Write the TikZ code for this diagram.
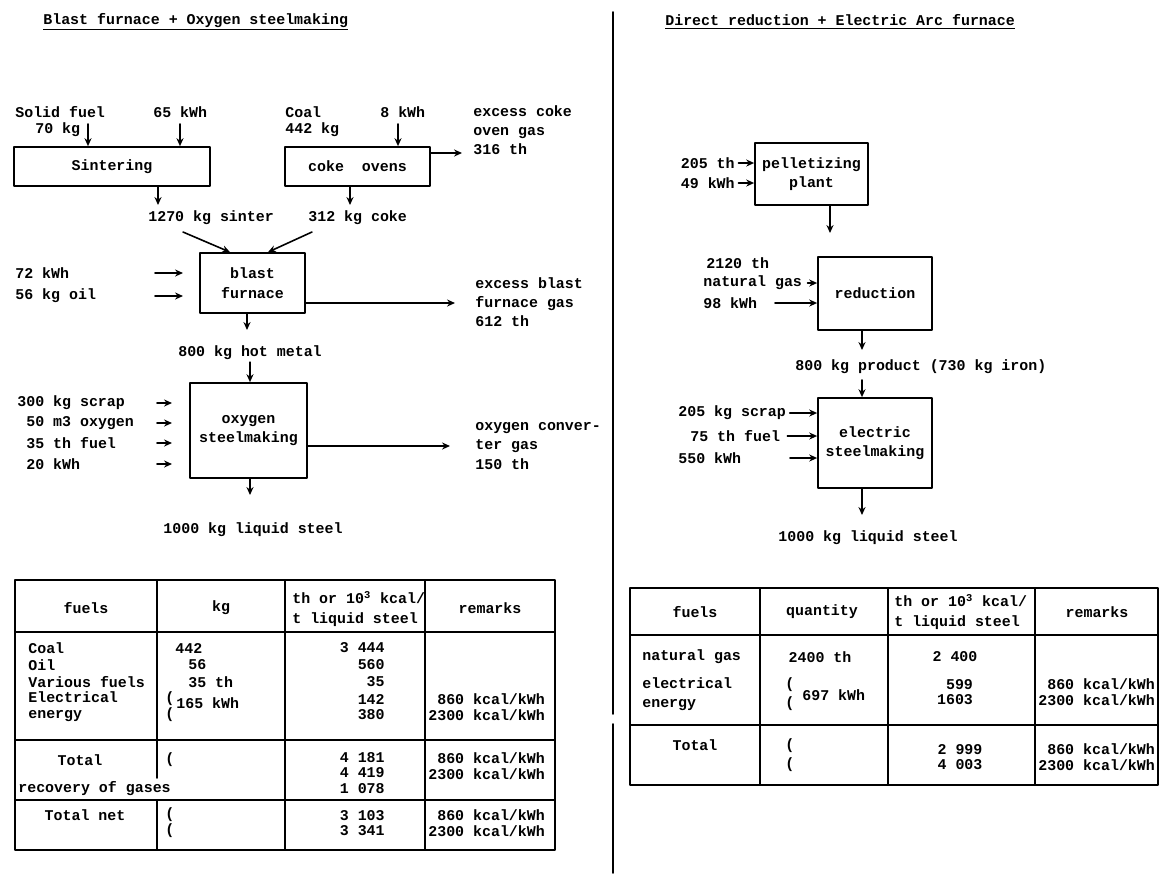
\documentclass[tikz,border=0pt]{standalone}
\usepackage{fontspec}
\setmonofont{Liberation Mono}
\usetikzlibrary{arrows.meta}

\tikzset{
  proc/.style={draw,line width=1pt,inner sep=0pt,align=center},
  lbl/.style={inner sep=0pt,anchor=west,align=left},
  flow/.style={line width=0.9pt,-{Stealth[length=4.5pt,width=4pt]}},
  rule/.style={line width=1pt},
  tight/.style={font=\ttfamily\bfseries\fontsize{8.5}{9}\selectfont},
}

\begin{document}
\begin{tikzpicture}[x=0.02cm,y=-0.02cm,line cap=round,line join=round,
  font=\ttfamily\bfseries\fontsize{8.5}{11}\selectfont]
  \useasboundingbox (0,0) rectangle (1174,873);
  % titles and divider
  \node[lbl] (titleA) at (43,22) {\underline{Blast furnace + Oxygen steelmaking}};
  \node[lbl] (titleB) at (665,22) {\underline{Direct reduction + Electric Arc furnace}};
  \draw[rule] (613,12) -- (613,714);
  \draw[rule] (613,724) -- (613,873);

  % blast furnace route
  \node[proc,minimum width=3.92cm,minimum height=0.78cm] (sinter) at (112,166.5) {Sintering};
  \node[proc,minimum width=2.9cm,minimum height=0.78cm] (coke) at (357.5,166.5) {coke\ \ ovens};
  \node[proc,minimum width=2.1cm,minimum height=1.2cm] (bf) at (252.5,283) {blast\\furnace};
  \node[proc,minimum width=2.34cm,minimum height=1.9cm] (oxy) at (248.5,430.5) {oxygen\\steelmaking};
  \node[lbl] (solid) at (15,112) {Solid fuel};
  \node[lbl] (kg70) at (35,130) {70 kg};
  \node[lbl] (kwh65) at (153,112) {65 kWh};
  \node[lbl] (coal) at (285,112) {Coal};
  \node[lbl] (kg442) at (285,130) {442 kg};
  \node[lbl] (kwh8) at (380,112) {8 kWh};
  \node[lbl] (cogas) at (473,130) {excess coke\\oven gas\\316 th};
  \node[lbl] (sinterkg) at (148,218) {1270 kg sinter};
  \node[lbl] (cokekg) at (308,218) {312 kg coke};
  \node[lbl] (kwh72) at (15,273) {72 kWh};
  \node[lbl] (oil) at (15,296) {56 kg oil};
  \node[lbl] (bfgas) at (475,302) {excess blast\\furnace gas\\612 th};
  \node[inner sep=1pt] (hotmetal) at (250,353) {800 kg hot metal};
  \node[lbl] (scrapA) at (17,403) {300 kg scrap};
  \node[lbl] (oxygen) at (26,423) {50 m3 oxygen};
  \node[lbl] (fuelA) at (26,443) {35 th fuel};
  \node[lbl] (kwh20) at (26,464) {20 kWh};
  \node[lbl] (convgas) at (475,446) {oxygen conver-\\ter gas\\150 th};
  \node (steelA) at (253,530) {1000 kg liquid steel};

  \draw[flow] (88,124) -- (88,0 |- sinter.north);
  \draw[flow] (180,124) -- (180,0 |- sinter.north);
  \draw[flow] (398,124) -- (398,0 |- coke.north);
  \draw[flow] (coke.east |- 0,153) -- (462,153);
  \draw[flow] (158,0 |- sinter.south) -- (158,205);
  \draw[flow] (350,0 |- coke.south) -- (350,205);
  \draw[flow] (183,232) -- (230,0 |- bf.north);
  \draw[flow] (312,232) -- (268,0 |- bf.north);
  \draw[flow] (155,0 |- kwh72) -- (183,0 |- kwh72);
  \draw[flow] (155,0 |- oil) -- (183,0 |- oil);
  \draw[flow] (bf.east |- 0,303) -- (455,303);
  \draw[flow] (247,0 |- bf.south) -- (247,330);
  \draw[flow] (hotmetal.south) -- (hotmetal.south |- oxy.north);
  \foreach \n in {scrapA,oxygen,fuelA,kwh20}
    \draw[flow] (157,0 |- \n) -- (172,0 |- \n);
  \draw[flow] (oxy.east |- 0,446) -- (450,446);
  \draw[flow] (250,0 |- oxy.south) -- (250,495);

  % left table
  \draw[rule] (15,580) rectangle (555,850);
  \draw[rule] (15,632) -- (555,632);
  \draw[rule] (15,740) -- (555,740);
  \draw[rule] (15,800) -- (555,800);
  \draw[rule] (157,580) -- (157,778);
  \draw[rule] (157,800) -- (157,850);
  \draw[rule] (285,580) -- (285,850);
  \draw[rule] (425,580) -- (425,850);
  \node (hfuelsA) at (86,608) {fuels};
  \node (hkg) at (221,608) {kg};
  \node[lbl] (hthA) at (292,609) {th or 10\textsuperscript{3} kcal/\\t liquid steel};
  \node (hremA) at (490,608) {remarks};
  \node[lbl] (coalA) at (28,648) {Coal};
  \node[lbl] (oilA) at (28,665) {Oil};
  \node[lbl] (varA) at (28,682) {Various fuels};
  \node[lbl,tight] (elA) at (28,707) {Electrical\\energy};
  \node[lbl] (coalkg) at (175,648) {442};
  \node[lbl] (oilkg) at (188,665) {56};
  \node[lbl] (varkg) at (188,682) {35 th};
  \node[lbl,tight] (elpar) at (165,707) {(\\(};
  \node[lbl] (elkg) at (176,703) {165 kWh};
  \node[lbl,anchor=east] (coalth) at (385,648) {3 444};
  \node[lbl,anchor=east] (oilth) at (385,665) {560};
  \node[lbl,anchor=east] (varth) at (385,682) {35};
  \node[lbl,anchor=east,align=right,tight] (elth) at (385,707) {142\\380};
  \node[lbl,tight] (elrem) at (428,707) {\ 860 kcal/kWh\\2300 kcal/kWh};
  \node (totA) at (80,760) {Total};
  \node[lbl] (totpar) at (165,760) {(};
  \node[lbl,anchor=east,align=right,tight] (totth) at (385,773) {4 181\\4 419\\1 078};
  \node[lbl,tight] (totrem) at (428,766) {\ 860 kcal/kWh\\2300 kcal/kWh};
  \node[lbl] (recov) at (18,789) {recovery of gases};
  \node (netA) at (85,815) {Total net};
  \node[lbl,tight] (netpar) at (165,823) {(\\(};
  \node[lbl,anchor=east,align=right,tight] (netth) at (385,823) {3 103\\3 341};
  \node[lbl,tight] (netrem) at (428,823) {\ 860 kcal/kWh\\2300 kcal/kWh};

  % direct reduction route
  \node[proc,minimum width=2.26cm,minimum height=1.24cm] (pellet) at (811.5,174) {pelletizing\\plant};
  \node[proc,minimum width=2.28cm,minimum height=1.46cm] (reduct) at (875,293.5) {reduction};
  \node[proc,minimum width=2.28cm,minimum height=1.8cm] (elec) at (875,443) {electric\\steelmaking};
  \node[lbl,anchor=east] (thP) at (735,163) {205 th};
  \node[lbl,anchor=east] (kwhP) at (735,183) {49 kWh};
  \node[lbl] (thR) at (706,263) {2120 th};
  \node[lbl] (gasR) at (703,283) {natural gas};
  \node[lbl] (kwhR) at (703,303) {98 kWh};
  \node[lbl] (product) at (795,367) {800 kg product (730 kg iron)};
  \node[lbl] (scrapB) at (678,413) {205 kg scrap};
  \node[lbl] (fuelB) at (690,436) {75 th fuel};
  \node[lbl] (kwhB) at (678,458) {550 kWh};
  \node (steelB) at (868,538) {1000 kg liquid steel};

  \draw[flow] ([xshift=2pt]thP.east) -- (thP -| pellet.west);
  \draw[flow] ([xshift=2pt]kwhP.east) -- (kwhP -| pellet.west);
  \draw[flow] (830,0 |- pellet.south) -- (830,233);
  \draw[flow] ([xshift=3pt]gasR.east) -- (gasR -| reduct.west);
  \draw[flow] (775,0 |- kwhR) -- (kwhR -| reduct.west);
  \draw[flow] (862,0 |- reduct.south) -- (862,350);
  \draw[flow] (862,380) -- (862,0 |- elec.north);
  \draw[flow] ([xshift=2pt]scrapB.east) -- (scrapB -| elec.west);
  \draw[flow] ([xshift=4pt]fuelB.east) -- (fuelB -| elec.west);
  \draw[flow] (790,0 |- kwhB) -- (kwhB -| elec.west);
  \draw[flow] (862,0 |- elec.south) -- (862,515);

  % right table
  \draw[rule] (630,588) rectangle (1158,785);
  \draw[rule] (630,635) -- (1158,635);
  \draw[rule] (630,725) -- (1158,725);
  \draw[rule] (760,588) -- (760,785);
  \draw[rule] (888,588) -- (888,785);
  \draw[rule] (1035,588) -- (1035,785);
  \node (hfuelsB) at (695,612) {fuels};
  \node (hqty) at (822,612) {quantity};
  \node[lbl] (hthB) at (894,612) {th or 10\textsuperscript{3} kcal/\\t liquid steel};
  \node (hremB) at (1097,612) {remarks};
  \node[lbl] (natgas) at (642,657) {natural gas};
  \node (natqty) at (820,657) {2400 th};
  \node (natth) at (955,657) {2 400};
  \node[lbl] (elecB) at (642,694) {electrical\\energy};
  \node[lbl] (elparB) at (785,694) {(\\(};
  \node[lbl] (elqty) at (802,695) {697 kWh};
  \node[align=right,tight] (elthB) at (955,692) {599\\1603};
  \node[lbl,tight] (elremB) at (1038,692) {\ 860 kcal/kWh\\2300 kcal/kWh};
  \node (totB) at (695,745) {Total};
  \node[lbl] (totparB) at (785,755) {(\\(};
  \node[align=right,tight] (totthB) at (960,757) {2 999\\4 003};
  \node[lbl,tight] (totremB) at (1038,757) {\ 860 kcal/kWh\\2300 kcal/kWh};
\end{tikzpicture}
\end{document}
